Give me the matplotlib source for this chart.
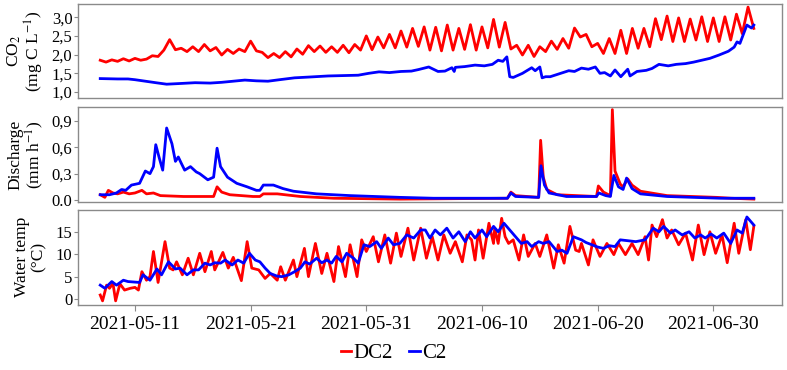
import numpy as np
import pandas as pd
import matplotlib
matplotlib.use('Agg')
from matplotlib import pyplot as plt
from matplotlib.lines import Line2D

plt.rcParams['font.family'] = ['Liberation Serif', 'DejaVu Serif']
plt.rcParams['mathtext.fontset'] = 'stix'

start = pd.Timestamp('2021-05-08')

# CO2 (mg C/L), DC2 read every 12 h from day 0
co2_dc2 = [1.85, 1.80, 1.86, 1.82, 1.89, 1.83, 1.90, 1.85, 1.88, 1.97,
           1.95, 2.12, 2.40, 2.13, 2.17, 2.08, 2.21, 2.08, 2.27, 2.10,
           2.19, 1.99, 2.14, 2.03, 2.15, 2.08, 2.36, 2.10, 2.06, 1.92,
           2.03, 1.92, 2.08, 1.94, 2.15, 2.01, 2.24, 2.08, 2.23, 2.06,
           2.21, 2.06, 2.25, 2.05, 2.27, 2.12, 2.50, 2.13, 2.47, 2.18,
           2.54, 2.18, 2.63, 2.20, 2.70, 2.22, 2.74, 2.12, 2.73, 2.10,
           2.79, 2.12, 2.70, 2.14, 2.80, 2.12, 2.74, 2.18, 2.94, 2.20,
           2.86, 2.15, 2.25, 1.99, 2.25, 1.95, 2.21, 2.08, 2.36, 2.14,
           2.43, 2.17, 2.71, 2.47, 2.54, 2.21, 2.30, 2.03, 2.43, 2.03,
           2.65, 2.03, 2.70, 2.17, 2.70, 2.21, 2.96, 2.40, 3.03, 2.35,
           2.98, 2.35, 2.95, 2.39, 3.01, 2.35, 2.98, 2.35, 3.01, 2.39,
           3.08, 2.56, 3.27, 2.70]
co2_dc2_days = np.arange(len(co2_dc2)) * 0.5

# CO2, C2 (day offset, value)
co2_c2_days = [0, 1.5, 2.4, 3.0, 3.9, 4.8, 5.74, 7.0, 8.2, 9.5, 10.5, 11.5, 12.5,
               13.5, 14.5, 15.5, 16.8, 18.0, 19.7, 21.0, 22.3, 23.2, 24.1, 25.0,
               26.0, 26.9, 27.5, 28.4, 29.2, 29.8, 30.4, 30.6, 30.7, 31.5, 32.4,
               33.2, 33.9, 34.4, 34.8, 35.15, 35.4, 35.7, 36.5, 37.3, 37.6, 38.0,
               38.2, 38.5, 38.9, 39.6, 40.5, 41.0, 41.6, 42.2, 42.8, 43.2, 43.6,
               44.1, 44.5, 45.0, 45.6, 45.8, 46.4, 47.2, 47.7, 48.3, 49.1, 49.8,
               50.6, 51.3, 52.0, 52.7, 53.5, 54.3, 54.8, 55.05, 55.3, 55.9, 56.3, 56.5]
co2_c2 = [1.36, 1.35, 1.35, 1.33, 1.29, 1.25, 1.21, 1.23, 1.25, 1.24, 1.26, 1.29, 1.32,
          1.30, 1.29, 1.33, 1.38, 1.40, 1.43, 1.44, 1.45, 1.50, 1.54, 1.52,
          1.55, 1.56, 1.60, 1.67, 1.55, 1.56, 1.65, 1.55, 1.66, 1.68, 1.72,
          1.70, 1.74, 1.85, 1.82, 1.94, 1.41, 1.39, 1.50, 1.65, 1.57, 1.67,
          1.38, 1.41, 1.41, 1.48, 1.57, 1.55, 1.64, 1.61, 1.67, 1.50, 1.52,
          1.43, 1.59, 1.41, 1.61, 1.43, 1.55, 1.58, 1.63, 1.74, 1.70, 1.74,
          1.76, 1.80, 1.85, 1.90, 1.99, 2.09, 2.20, 2.34, 2.30, 2.79, 2.71, 2.79]

# Discharge (mm/h)
q_c2_days = [0, 0.8, 1.4, 1.85, 2.2, 2.7, 3.4, 3.9, 4.3, 4.6, 4.8, 5.1, 5.4, 5.74,
             6.2, 6.5, 6.75, 7.0, 7.3, 7.8, 8.3, 8.6, 8.9, 9.3, 9.8, 10.1, 10.4,
             11.0, 11.8, 12.7, 13.5, 13.8, 14.1, 14.97, 15.8, 16.7, 18.7, 21.6,
             25.9, 28.8, 35.2, 35.5, 35.9, 37.9, 38.1, 38.4, 38.8, 40.3, 42.9,
             43.1, 43.7, 44.1, 44.4, 44.8, 45.2, 45.5, 45.97, 46.7, 49.0, 53.6, 56.5]
q_c2 = [0.06, 0.06, 0.08, 0.12, 0.11, 0.17, 0.19, 0.33, 0.30, 0.38, 0.63, 0.48, 0.34, 0.82,
        0.64, 0.44, 0.49, 0.42, 0.34, 0.38, 0.32, 0.30, 0.27, 0.23, 0.26, 0.59, 0.38,
        0.26, 0.19, 0.15, 0.11, 0.11, 0.17, 0.17, 0.13, 0.10, 0.07, 0.05,
        0.03, 0.02, 0.02, 0.08, 0.04, 0.03, 0.39, 0.17, 0.08, 0.04, 0.04,
        0.08, 0.05, 0.04, 0.28, 0.15, 0.12, 0.25, 0.13, 0.07, 0.04, 0.02, 0.02]
q_dc2_days = [0, 0.4, 0.7, 1.1, 1.5, 2.0, 2.5, 3.0, 3.6, 4.0, 4.6, 5.2, 7.2, 9.8,
              10.1, 10.5, 11.2, 13.2, 13.8, 14.1, 15.3, 17.3, 20.2, 25.9, 35.2,
              35.5, 35.9, 37.9, 38.07, 38.3, 38.6, 39.5, 42.9, 43.06, 43.5, 44.1,
              44.27, 44.5, 44.96, 45.2, 45.6, 45.97, 46.7, 49.0, 53.3, 54.5, 56.5]
q_dc2 = [0.06, 0.03, 0.11, 0.08, 0.07, 0.09, 0.07, 0.08, 0.11, 0.07, 0.08, 0.05, 0.04, 0.04,
         0.15, 0.09, 0.06, 0.04, 0.04, 0.07, 0.07, 0.04, 0.02, 0.01, 0.02,
         0.09, 0.05, 0.03, 0.68, 0.26, 0.12, 0.06, 0.04, 0.16, 0.09, 0.05,
         1.03, 0.33, 0.18, 0.15, 0.24, 0.17, 0.10, 0.05, 0.03, 0.02, 0.01]

# Water temperature (°C)
wt_dc2_days = [0, 0.2, 0.55, 0.8, 1.1, 1.33, 1.7, 2.1, 2.6, 3.0, 3.3, 3.6, 4.0, 4.3,
               4.6, 5.0, 5.6, 6.0, 6.3, 6.6, 7.1, 7.6, 8.05, 8.6, 9.05, 9.6, 9.9,
               10.6, 11.07, 11.5, 12.2, 12.7, 13.1, 13.7, 14.25, 14.7, 15.3, 15.6,
               16.0, 16.7, 17.0, 17.65, 18.0, 18.6, 19.15, 19.6, 20.2, 20.6, 21.2,
               21.6, 22.2, 22.6, 23.0, 23.6, 24.05, 24.6, 25.1, 25.6, 26.0, 26.6,
               27.1, 27.7, 28.2, 28.7, 29.2, 29.7, 30.25, 30.7, 31.3, 31.7, 32.1,
               32.4, 32.7, 33.1, 33.6, 34.0, 34.1, 34.4, 34.7, 35.0, 35.3, 35.7,
               36.2, 36.6, 37.0, 37.6, 38.0, 38.6, 39.2, 39.6, 40.1, 40.6, 41.1,
               41.4, 41.6, 42.2, 42.6, 43.2, 43.8, 44.4, 44.8, 45.4, 45.97, 46.5,
               47.1, 47.4, 47.7, 48.1, 48.6, 49.0, 49.4, 50.0, 50.6, 51.2, 51.7,
               52.2, 52.7, 53.2, 53.75, 54.2, 54.8, 55.2, 55.8, 56.2, 56.5]
wt_dc2 = [0.9, -0.4, 3.1, 2.4, 3.5, -0.4, 3.4, 2.0, 2.4, 2.6, 2.0, 6.1, 4.2, 5.0,
          10.6, 3.7, 12.8, 6.9, 6.5, 8.3, 5.4, 9.1, 5.4, 10.2, 6.1, 10.6, 6.5,
          10.4, 6.9, 9.3, 4.1, 12.8, 6.9, 6.5, 4.6, 5.7, 4.2, 7.2,
          4.2, 8.7, 5.0, 11.3, 5.0, 12.4, 5.7, 10.2, 3.9, 11.7, 5.0,
          12.1, 5.0, 13.2, 10.6, 13.9, 8.3, 14.3, 8.0, 14.7, 9.5, 15.8,
          8.7, 15.8, 9.1, 13.9, 8.7, 14.3, 10.2, 12.8, 8.3, 14.3, 13.2,
          8.7, 15.4, 9.1, 16.9, 12.4, 15.8, 12.4, 18.0, 13.9, 12.4, 13.2,
          8.7, 14.3, 9.5, 12.4, 9.5, 14.3, 6.9, 12.1, 8.0, 16.2, 10.9,
          10.6, 12.4, 7.6, 13.2, 9.5, 12.4, 9.9, 12.4, 9.9, 12.4, 9.9,
          13.9, 8.7, 16.5, 13.9, 17.7, 13.6, 15.4, 12.1, 14.7, 8.7, 16.5,
          9.9, 15.0, 10.2, 14.3, 8.1, 16.9, 10.2, 17.7, 11.0, 16.2]
wt_c2_days = [0, 0.4, 1.0, 1.4, 2.0, 2.4, 3.4, 3.7, 4.3, 4.9, 5.3, 5.9, 6.5, 6.9,
              7.5, 8.05, 8.5, 9.05, 9.5, 9.9, 10.4, 10.8, 11.4, 11.9, 12.4, 12.9,
              13.4, 13.8, 14.25, 14.7, 15.3, 15.7, 16.3, 16.8, 17.3, 17.7, 18.1,
              18.7, 19.15, 19.6, 20.0, 20.4, 20.9, 21.3, 21.9, 22.3, 22.8, 23.3,
              23.9, 24.3, 24.9, 25.35, 25.9, 26.5, 27.1, 27.7, 28.1, 28.5, 28.95,
              29.4, 29.96, 30.5, 31.0, 31.55, 32.0, 32.4, 33.0, 33.4, 34.0, 34.4,
              34.9, 36.4, 36.9, 37.3, 37.9, 38.3, 38.8, 39.5, 39.9, 40.35, 40.9,
              41.6, 42.0, 42.5, 43.0, 43.5, 44.0, 44.5, 44.95, 46.3, 47.1, 47.8,
              48.3, 48.7, 49.3, 49.7, 50.3, 50.9, 51.4, 51.9, 52.3, 52.8, 53.3,
              53.9, 54.5, 55.05, 55.5, 55.9, 56.5]
wt_c2 = [3.1, 2.4, 3.9, 3.1, 4.2, 3.9, 3.7, 5.4, 4.2, 6.7, 5.4, 8.3, 6.7, 6.9,
         5.4, 6.5, 6.5, 8.0, 7.6, 8.1, 8.0, 8.7, 7.6, 8.7, 8.0, 10.2,
         8.7, 8.3, 6.9, 5.7, 5.1, 5.0, 5.4, 6.1, 6.9, 8.3, 7.8,
         9.1, 8.1, 8.7, 8.0, 9.5, 8.3, 10.2, 9.1, 8.0, 12.1, 11.7,
         12.8, 11.3, 13.6, 12.1, 12.4, 14.3, 13.6, 15.4, 15.4, 13.6, 15.4,
         14.3, 15.8, 13.6, 15.0, 12.8, 15.0, 13.6, 15.4, 13.9, 16.2, 15.0,
         16.9, 12.4, 12.8, 11.7, 12.8, 12.4, 12.8, 10.6, 10.9, 10.2, 13.9,
         13.2, 12.6, 12.1, 11.6, 11.3, 11.9, 11.7, 13.2, 12.8, 13.2, 15.8,
         15.0, 16.2, 14.7, 15.4, 14.3, 15.0, 13.6, 14.3, 13.6, 14.5, 13.6,
         14.7, 12.4, 15.4, 14.7, 18.3, 16.5]

tick_dates = ['2021-05-11', '2021-05-21', '2021-05-31', '2021-06-10', '2021-06-20', '2021-06-30']
co2_ticks = [1.0, 1.5, 2.0, 2.5, 3.0]
co2_labels = ['1,0', '1,5', '2,0', '2,5', '3,0']
q_ticks = [0.0, 0.3, 0.6, 0.9]
q_labels = ['0.0', '0,3', '0,6', '0,9']
wt_ticks = [0, 5, 10, 15]
wt_labels = ['0', '5', '10', '15']


def to_dates(days):
    return start + pd.to_timedelta(np.asarray(days, dtype=float), unit='D')


RED = '#ff0000'
BLUE = '#0000ff'
LW = 2.0
GRAY = '#8a8a8a'

fig = plt.figure(figsize=(7.87, 3.70), dpi=100)
left, width = 0.099, 0.895
ax1 = fig.add_axes([left, 0.735, width, 0.254])
ax2 = fig.add_axes([left, 0.454, width, 0.257], sharex=ax1)
ax3 = fig.add_axes([left, 0.176, width, 0.257], sharex=ax1)

ax1.plot(to_dates(co2_dc2_days), co2_dc2, color=RED, lw=LW)
ax1.plot(to_dates(co2_c2_days), co2_c2, color=BLUE, lw=LW)
ax2.plot(to_dates(q_dc2_days), q_dc2, color=RED, lw=LW)
ax2.plot(to_dates(q_c2_days), q_c2, color=BLUE, lw=LW)
ax3.plot(to_dates(wt_dc2_days), wt_dc2, color=RED, lw=LW)
ax3.plot(to_dates(wt_c2_days), wt_c2, color=BLUE, lw=LW)

ax1.set_ylim(0.84, 3.35)
ax2.set_ylim(-0.023, 1.06)
ax3.set_ylim(-1.3, 19.9)
ax1.set_yticks(co2_ticks, co2_labels)
ax2.set_yticks(q_ticks, q_labels)
ax3.set_yticks(wt_ticks, wt_labels)

ax1.set_ylabel('CO$_2$\n(mg C L$^{-1}$)', fontsize=12.5, linespacing=1.0)
ax2.set_ylabel('Discharge\n(mm h$^{-1}$)', fontsize=12.5, linespacing=1.0)
ax3.set_ylabel('Water temp\n(°C)', fontsize=12.5, linespacing=1.0)

ax3.set_xlim(start - pd.Timedelta(days=1.93), start + pd.Timedelta(days=58.96))
ax3.set_xticks(pd.to_datetime(tick_dates), tick_dates)

for ax in (ax1, ax2, ax3):
    for s in ax.spines.values():
        s.set_color(GRAY)
        s.set_linewidth(1.0)
    ax.tick_params(axis='y', labelsize=12, length=3, width=0.8, color=GRAY, pad=1)
    ax.yaxis.set_label_coords(-0.045, 0.5)
for ax in (ax1, ax2):
    ax.tick_params(axis='x', length=0, labelbottom=False)
ax3.tick_params(axis='x', labelsize=14, length=4, width=0.8, color=GRAY, pad=4)

handles = [Line2D([], [], color=RED, lw=LW), Line2D([], [], color=BLUE, lw=LW)]
fig.legend(handles, ['DC2', 'C2'], loc='center', bbox_to_anchor=(0.5, 0.045), ncol=2,
           frameon=False, fontsize=15, handlelength=0.5, handletextpad=0.1,
           columnspacing=0.8)

fig.savefig('out.png', dpi=100)
